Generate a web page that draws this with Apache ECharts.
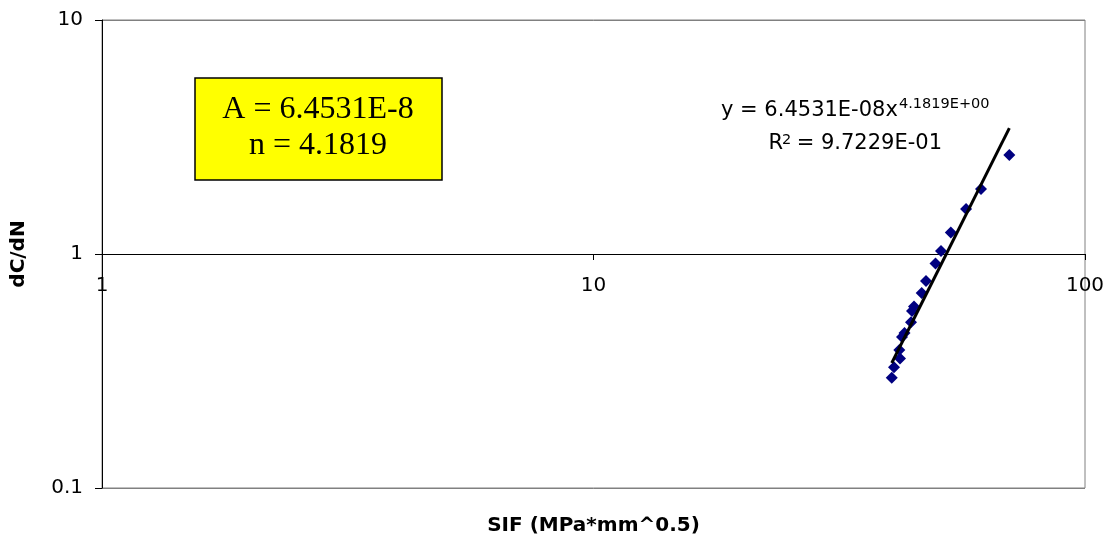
<!DOCTYPE html>
<html>
<head>
<meta charset="utf-8">
<script src="https://cdn.jsdelivr.net/npm/echarts@6/dist/echarts.min.js"></script>
<style>html,body{margin:0;padding:0;background:#fff;}#c{width:1114px;height:544px;}</style>
</head>
<body>
<div id="c"></div>
<script>
// Data
var sifValues  = [40.44, 40.87, 42.03, 41.90, 42.43, 42.93, 44.26, 44.46, 44.88, 46.53, 47.48, 49.64, 50.93, 53.33, 57.28, 61.43, 70.15];
var dcdnValues = [0.296, 0.328, 0.358, 0.389, 0.442, 0.460, 0.511, 0.571, 0.597, 0.681, 0.767, 0.911, 1.030, 1.236, 1.557, 1.896, 2.649];
var trendX = [40.44, 70.15];
var trendY = [0.342, 3.45];
var xTickLabels = ['1', '10', '100'];
var yTickLabels = ['0.1', '1', '10'];
var boxLines = ['A = 6.4531E-8', 'n = 4.1819'];
var eqMain = 'y = 6.4531E-08x';
var eqExp = '4.1819E+00';
var r2Main = ' = 9.7229E-01';

var points = sifValues.map(function (x, i) { return [x, dcdnValues[i]]; });
var trend = trendX.map(function (x, i) { return [x, trendY[i]]; });

var sans = 'DejaVu Sans';
var chart = echarts.init(document.getElementById('c'), null, {renderer: 'canvas'});
chart.setOption({
  animation: false,
  backgroundColor: '#ffffff',
  grid: {left: 102, right: 29, top: 20, bottom: 56, show: true, borderColor: '#808080', borderWidth: 1, backgroundColor: 'transparent'},
  xAxis: [
    {
      type: 'log', logBase: 10, min: 1, max: 100, position: 'bottom',
      name: 'SIF (MPa*mm^0.5)', nameLocation: 'middle', nameGap: 28,
      nameTextStyle: {fontFamily: sans, fontWeight: 'bold', fontSize: 20, color: '#000'},
      axisLine: {show: false}, axisTick: {show: false}, axisLabel: {show: false},
      splitLine: {show: false}, minorTick: {show: false}
    },
    {
      type: 'log', logBase: 10, min: 1, max: 100, position: 'bottom', offset: -234,
      axisLine: {show: true, onZero: false, lineStyle: {color: '#000', width: 1}},
      axisTick: {show: true, inside: false, length: 6, lineStyle: {color: '#000'}},
      axisLabel: {show: true, margin: 22, fontFamily: sans, fontSize: 20, color: '#000',
        formatter: function (v) { var i = Math.round(Math.log10(v)); return xTickLabels[i] !== undefined ? xTickLabels[i] : ''; }},
      splitLine: {show: false}
    }
  ],
  yAxis: {
    type: 'log', logBase: 10, min: 0.1, max: 10,
    name: 'dC/dN', nameLocation: 'middle', nameGap: 73, nameRotate: 90,
    nameTextStyle: {fontFamily: sans, fontWeight: 'bold', fontSize: 20, color: '#000'},
    axisLine: {show: true, lineStyle: {color: '#000', width: 1}},
    axisTick: {show: true, inside: false, length: 7, lineStyle: {color: '#000'}},
    axisLabel: {margin: 19, fontFamily: sans, fontSize: 20, color: '#000',
      formatter: function (v) { var i = Math.round(Math.log10(v)) + 1; return yTickLabels[i] !== undefined ? yTickLabels[i] : ''; }},
    splitLine: {show: true, lineStyle: {color: '#808080', width: 1}}
  },
  series: [
    {
      type: 'scatter', xAxisIndex: 0, data: points,
      symbol: 'diamond', symbolSize: [12, 12],
      itemStyle: {color: '#000080', opacity: 1}, z: 2
    },
    {
      type: 'line', xAxisIndex: 0, data: trend, showSymbol: false, symbol: 'none',
      lineStyle: {color: '#000', width: 3}, z: 3, silent: true
    }
  ],
  graphic: [
    {type: 'rect', shape: {x: 195, y: 78, width: 247, height: 102},
      style: {fill: '#FFFF00', stroke: '#000', lineWidth: 1.5}, z: 10},
    {type: 'text', x: 318, y: 109.5, z: 11,
      style: {text: boxLines[0], fontFamily: 'Liberation Serif', fontSize: 32, fill: '#000', textAlign: 'center', textVerticalAlign: 'middle'}},
    {type: 'text', x: 318, y: 145.5, z: 11,
      style: {text: boxLines[1], fontFamily: 'Liberation Serif', fontSize: 32, fill: '#000', textAlign: 'center', textVerticalAlign: 'middle'}},
    {type: 'text', x: 721, y: 110.8, z: 11,
      style: {text: eqMain, fontFamily: sans, fontSize: 21, fill: '#000', textAlign: 'left', textVerticalAlign: 'middle'}},
    {type: 'text', x: 899, y: 104.3, z: 11,
      style: {text: eqExp, fontFamily: sans, fontSize: 14.5, fill: '#000', textAlign: 'left', textVerticalAlign: 'middle'}},
    {type: 'text', x: 768.5, y: 144, z: 11,
      style: {text: 'R', fontFamily: sans, fontSize: 21, fill: '#000', textAlign: 'left', textVerticalAlign: 'middle'}},
    {type: 'text', x: 782, y: 140, z: 11,
      style: {text: '2', fontFamily: sans, fontSize: 14.5, fill: '#000', textAlign: 'left', textVerticalAlign: 'middle'}},
    {type: 'text', x: 790, y: 144, z: 11,
      style: {text: r2Main, fontFamily: sans, fontSize: 21, fill: '#000', textAlign: 'left', textVerticalAlign: 'middle'}}
  ]
});
</script>
</body>
</html>
